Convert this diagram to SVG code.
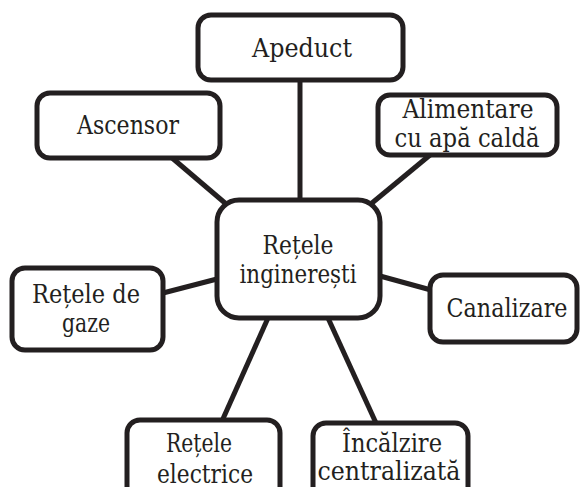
<svg xmlns="http://www.w3.org/2000/svg" width="582" height="487" viewBox="0 0 582 487">
<style>
.box{fill:#fff;stroke:#231f20;stroke-width:5}
.ln{stroke:#231f20;stroke-width:5;fill:none}
text{font-family:'DejaVu Serif','Liberation Serif',serif;font-size:26px;fill:#231f20;text-anchor:middle}
</style>
<rect width="582" height="487" fill="#fff"/>
<g id="connectors">
<line class="ln" x1="300" y1="80" x2="300" y2="200"/>
<line class="ln" x1="171" y1="157" x2="225" y2="203"/>
<line class="ln" x1="430" y1="155" x2="372" y2="203"/>
<line class="ln" x1="163" y1="293" x2="217" y2="279"/>
<line class="ln" x1="380" y1="276" x2="431" y2="290"/>
<line class="ln" x1="268" y1="318" x2="222" y2="421"/>
<line class="ln" x1="328" y1="318" x2="376" y2="423"/>
</g>
<g id="apeduct">
<rect class="box" x="198" y="15" width="205" height="65" rx="13"/>
<text x="302" y="57" textLength="100" lengthAdjust="spacingAndGlyphs">Apeduct</text>
</g>
<g id="ascensor">
<rect class="box" x="37" y="93" width="183" height="65" rx="13"/>
<text x="128" y="134" textLength="102" lengthAdjust="spacingAndGlyphs">Ascensor</text>
</g>
<g id="alimentare">
<rect class="box" x="378" y="95" width="179" height="60" rx="12"/>
<text x="468" y="118" textLength="131" lengthAdjust="spacingAndGlyphs">Alimentare</text>
<text x="467" y="147" textLength="145" lengthAdjust="spacingAndGlyphs">cu apă caldă</text>
</g>
<g id="centru">
<rect class="box" x="217" y="200" width="163" height="118" rx="22"/>
<text x="298" y="254" textLength="71" lengthAdjust="spacingAndGlyphs">Rețele</text>
<text x="298" y="283" textLength="117" lengthAdjust="spacingAndGlyphs">inginerești</text>
</g>
<g id="gaze">
<rect class="box" x="12" y="268" width="151" height="82" rx="13"/>
<text x="86" y="303" textLength="108" lengthAdjust="spacingAndGlyphs">Rețele de</text>
<text x="86" y="332" textLength="48" lengthAdjust="spacingAndGlyphs">gaze</text>
</g>
<g id="canalizare">
<rect class="box" x="430" y="275" width="147" height="67" rx="13"/>
<text x="507" y="317" textLength="121" lengthAdjust="spacingAndGlyphs">Canalizare</text>
</g>
<g id="electrice">
<rect class="box" x="127" y="420" width="153" height="80" rx="13"/>
<text x="199" y="452" textLength="66" lengthAdjust="spacingAndGlyphs">Rețele</text>
<text x="205" y="483" textLength="96" lengthAdjust="spacingAndGlyphs">electrice</text>
</g>
<g id="incalzire">
<rect class="box" x="313" y="423" width="155" height="80" rx="13"/>
<text x="392" y="452" textLength="100" lengthAdjust="spacingAndGlyphs">Încălzire</text>
<text x="389" y="480" textLength="143" lengthAdjust="spacingAndGlyphs">centralizată</text>
</g>
</svg>
